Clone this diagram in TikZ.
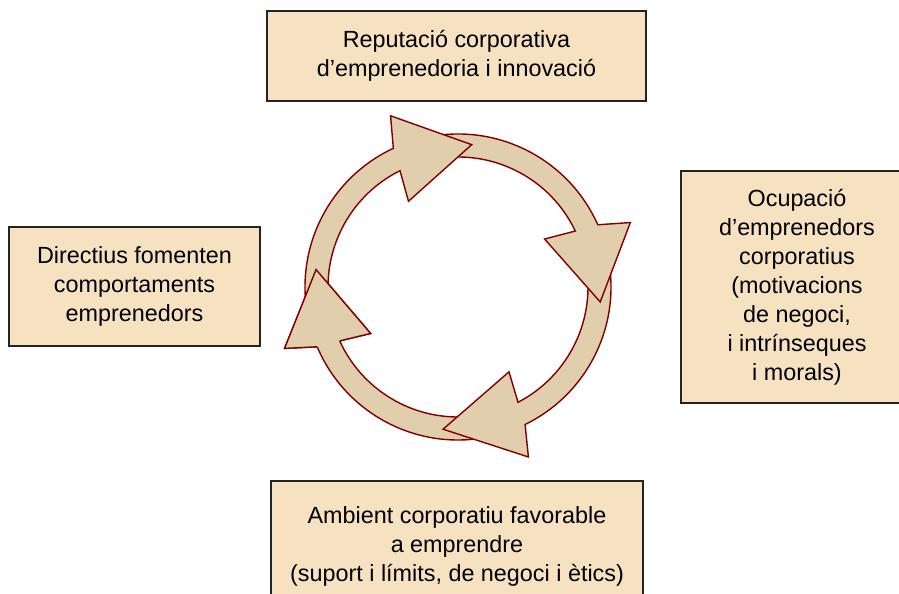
\documentclass[tikz,border=0pt]{standalone}
\usepackage{fontspec}
\setmainfont{Liberation Sans}
\definecolor{boxfill}{RGB}{246,225,193}
\definecolor{boxline}{RGB}{35,35,35}
\definecolor{arrowfill}{RGB}{224,206,172}
\definecolor{arrowline}{RGB}{128,0,0}
% curved block arrow around the origin: tail angle, head-base angle, tip angle
\newcommand{\cyclearrow}[3]{%
  \draw[cyc] (#1:153) arc[start angle=#1, end angle=#2, radius=153]
    -- ({#2-3.5}:184) -- (#3:143) -- ({#2+5}:99) -- ({#2+1.5}:130)
    arc[start angle={#2+1.5}, end angle=#1, radius=130] -- cycle;}
% head only, laid again on top: head-base angle, tip angle
\newcommand{\cyclehead}[2]{%
  \fill[arrowfill] (#1:153) -- ({#1-3.5}:184) -- (#2:143) -- ({#1+5}:99) -- ({#1+1.5}:130) -- cycle;
  \draw[cyc, fill=none] (#1:153) -- ({#1-3.5}:184) -- (#2:143) -- ({#1+5}:99) -- ({#1+1.5}:130);}
\begin{document}
\begin{tikzpicture}[x=0.02cm, y=0.02cm,
  box/.style={draw=boxline, fill=boxfill, line width=0.8pt, align=center,
    inner sep=0pt, font=\fontsize{13.3}{16.5}\selectfont},
  cyc/.style={draw=arrowline, fill=arrowfill, line width=0.8pt, line join=miter}]
\useasboundingbox (0,0) rectangle (899,594);

% the four boxes
\node[box, minimum width=7.58cm, minimum height=1.8cm] (rep) at (456.5,538)
  {Reputació corporativa\\d’emprenedoria i innovació};
\node[box, minimum width=5.02cm, minimum height=2.38cm] (dir) at (134.5,307.5)
  {Directius fomenten\\comportaments\\emprenedors};
\node[box, minimum width=4.64cm, minimum height=4.64cm] (ocu) at (797,307)
  {Ocupació\\d’emprenedors\\corporatius\\(motivacions\\de negoci,\\i intrínseques\\i morals)};
\node[box, minimum width=7.44cm, minimum height=2.6cm] (amb) at (457,48)
  {Ambient corporatiu favorable\\a emprendre\\(suport i límits, de negoci i ètics)};

% the clockwise cycle of four arrows
\begin{scope}[shift={(458,307)}]
  \cyclearrow{-82}{-157}{-187}
  \cyclearrow{11}{-64}{-96}
  \cyclearrow{99}{24}{-6}
  \cyclearrow{190}{115}{84.5}
  \cyclehead{-157}{-187}
\end{scope}
\end{tikzpicture}
\end{document}
